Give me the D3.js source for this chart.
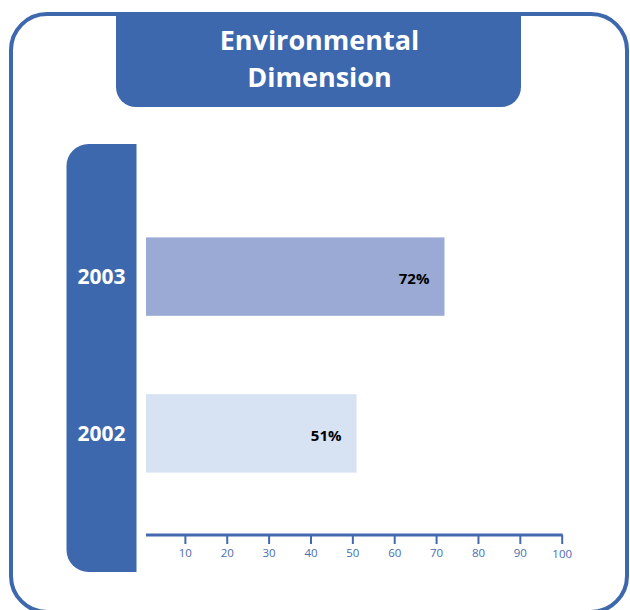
<!DOCTYPE html>
<html>
<head>
<meta charset="utf-8">
<script src="https://cdn.jsdelivr.net/npm/d3@7"></script>
<style>
  html, body { margin: 0; padding: 0; background: #fff; }
  svg { display: block; }
</style>
</head>
<body>
<svg id="chart" width="630" height="610"></svg>
<script>
// Chart content
const titleLines = ["Environmental", "Dimension"];
const years = ["2003", "2002"];
const shares = [72, 51];               // percent
const barColors = ["#9aaad4", "#d7e3f3"];
const tickValues = [10, 20, 30, 40, 50, 60, 70, 80, 90, 100];

const blue = "#3d68ad";
const axisBlue = "#4469ad";
const font = "'Open Sans', 'DejaVu Sans', sans-serif";

const svg = d3.select("#chart");

// Outer rounded frame
svg.append("rect")
  .attr("x", 11).attr("y", 14)
  .attr("width", 616).attr("height", 598)
  .attr("rx", 36).attr("ry", 36)
  .attr("fill", "#fff")
  .attr("stroke", blue)
  .attr("stroke-width", 4);

// Title tab hanging from the top edge, rounded bottom corners
function bottomRounded(x0, y0, x1, y1, r) {
  const p = d3.path();
  p.moveTo(x0, y0);
  p.lineTo(x1, y0);
  p.lineTo(x1, y1 - r);
  p.arcTo(x1, y1, x1 - r, y1, r);
  p.lineTo(x0 + r, y1);
  p.arcTo(x0, y1, x0, y1 - r, r);
  p.closePath();
  return p.toString();
}
svg.append("path")
  .attr("d", bottomRounded(116, 12, 521, 107, 20))
  .attr("fill", blue);

svg.append("g")
  .selectAll("text")
  .data(titleLines)
  .join("text")
  .attr("x", 319.5)
  .attr("y", (d, i) => 50 + i * 37)
  .attr("text-anchor", "middle")
  .attr("font-family", font)
  .attr("font-weight", 700)
  .attr("font-size", 27)
  .attr("fill", "#fff")
  .text(d => d);

// Left category band, rounded on its left side
function leftRounded(x0, y0, x1, y1, r) {
  const p = d3.path();
  p.moveTo(x0 + r, y0);
  p.lineTo(x1, y0);
  p.lineTo(x1, y1);
  p.lineTo(x0 + r, y1);
  p.arcTo(x0, y1, x0, y1 - r, r);
  p.lineTo(x0, y0 + r);
  p.arcTo(x0, y0, x0 + r, y0, r);
  p.closePath();
  return p.toString();
}
svg.append("path")
  .attr("d", leftRounded(66.5, 144, 136.5, 572, 22))
  .attr("fill", blue);

// Scales
const x = d3.scaleLinear().domain([0, 100]).range([143, 561.7]);
const y = d3.scaleBand().domain(years).range([159, 551])
  .paddingInner(0.5).paddingOuter(0.5);
const barStart = 146;

// Bars
const rows = years.map((yr, i) => ({ year: yr, value: shares[i], color: barColors[i] }));

svg.append("g")
  .selectAll("rect")
  .data(rows)
  .join("rect")
  .attr("x", barStart)
  .attr("y", d => y(d.year))
  .attr("width", d => x(d.value) - barStart)
  .attr("height", y.bandwidth())
  .attr("fill", d => d.color);

// Value labels inside the bar ends
svg.append("g")
  .selectAll("text")
  .data(rows)
  .join("text")
  .attr("x", d => x(d.value) - 15)
  .attr("y", d => y(d.year) + y.bandwidth() / 2 + 7.5)
  .attr("text-anchor", "end")
  .attr("font-family", font)
  .attr("font-weight", 700)
  .attr("font-size", 15)
  .attr("fill", "#000")
  .text(d => d.value + "%");

// Year labels on the band
svg.append("g")
  .selectAll("text")
  .data(years)
  .join("text")
  .attr("x", 101.5)
  .attr("y", d => y(d) + y.bandwidth() / 2 + 7.5)
  .attr("text-anchor", "middle")
  .attr("font-family", font)
  .attr("font-weight", 700)
  .attr("font-size", 21)
  .attr("fill", "#fff")
  .text(d => d);

// Bottom axis
const axisY = 535;
const axis = svg.append("g")
  .attr("transform", `translate(0,${axisY})`)
  .call(d3.axisBottom(x).tickValues(tickValues).tickSize(9).tickSizeOuter(0));

axis.select(".domain").remove();
axis.selectAll(".tick line")
  .attr("stroke", axisBlue)
  .attr("stroke-width", 2);
axis.selectAll(".tick text")
  .attr("fill", "#4a6db0")
  .attr("font-family", font)
  .attr("font-size", 11.5)
  .attr("dy", 0)
  .attr("y", d => d === 100 ? 23 : 22);

axis.append("line")
  .attr("x1", barStart).attr("x2", x(100) + 1)
  .attr("y1", 0).attr("y2", 0)
  .attr("stroke", axisBlue)
  .attr("stroke-width", 3);
</script>
</body>
</html>
